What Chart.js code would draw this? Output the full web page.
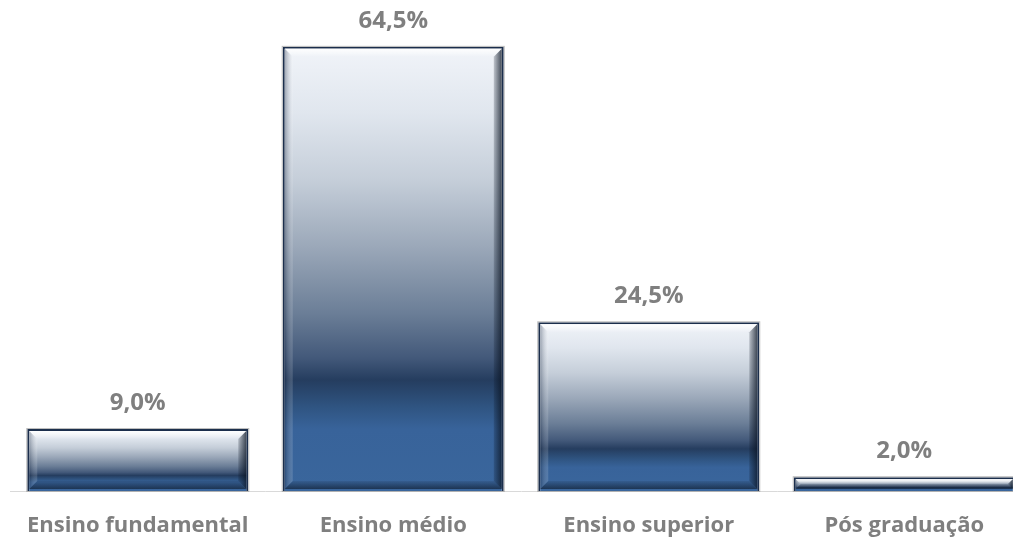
<!DOCTYPE html>
<html lang="pt-BR">
<head>
<meta charset="utf-8">
<title>Escolaridade</title>
<script src="https://cdn.jsdelivr.net/npm/chart.js@4.4.1/dist/chart.umd.min.js"></script>
<style>
    html, body { margin: 0; padding: 0; background: #ffffff; overflow: hidden; }
    #grafico { display: block; }
</style>
</head>
<body>
<canvas id="grafico" width="1040" height="540"></canvas>
<script>
// Dados do gráfico
const categorias = ['Ensino fundamental', 'Ensino médio', 'Ensino superior', 'Pós graduação'];
const percentuais = [9.0, 64.5, 24.5, 2.0];

// Cores do degradê das barras (do topo para a base)
const paradasDegrade = [
    [0.00, '#f1f4f9'],
    [0.15, '#e0e6ee'],
    [0.30, '#c5ced9'],
    [0.45, '#9ba8b9'],
    [0.60, '#6b7e97'],
    [0.70, '#43597a'],
    [0.75, '#253d5f'],
    [0.81, '#2f5481'],
    [0.86, '#38639a'],
    [1.00, '#3a669c']
];

const corTexto = '#7f7f7f';
const fonteTexto = "'Open Sans', 'DejaVu Sans', sans-serif";

// Formata 64.5 -> "64,5%"
function formatarPercentual(valor) {
    return valor.toFixed(1).replace('.', ',') + '%';
}

// Degradê vertical calculado para cada barra
function degradeBarra(context) {
    const chart = context.chart;
    if (!chart.chartArea) return '#38639a';
    const escalaY = chart.scales.y;
    const topo = escalaY.getPixelForValue(context.raw);
    const base = escalaY.getPixelForValue(0);
    const grad = chart.ctx.createLinearGradient(0, topo, 0, base);
    paradasDegrade.forEach(p => grad.addColorStop(p[0], p[1]));
    return grad;
}

// Efeito de chanfro nas bordas das barras
const pluginChanfro = {
    id: 'chanfro',
    afterDatasetsDraw(chart) {
        const ctx = chart.ctx;
        const meta = chart.getDatasetMeta(0);
        meta.data.forEach(barra => {
            const p = barra.getProps(['x', 'y', 'base', 'width'], true);
            const esq = p.x - p.width / 2 + 2;
            const dir = p.x + p.width / 2 - 2;
            const topo = p.y + 2;
            const base = p.base - 2;
            const b = Math.min(8, (base - topo) / 2);

            ctx.save();
            // topo claro
            let g = ctx.createLinearGradient(0, topo, 0, topo + b);
            g.addColorStop(0, 'rgba(255,255,255,0.9)');
            g.addColorStop(1, 'rgba(255,255,255,0)');
            ctx.fillStyle = g;
            ctx.beginPath();
            ctx.moveTo(esq, topo); ctx.lineTo(dir, topo);
            ctx.lineTo(dir - b, topo + b); ctx.lineTo(esq + b, topo + b);
            ctx.closePath(); ctx.fill();

            // lado esquerdo
            g = ctx.createLinearGradient(esq, 0, esq + b, 0);
            g.addColorStop(0, 'rgba(20,35,60,0.35)');
            g.addColorStop(1, 'rgba(255,255,255,0.15)');
            ctx.fillStyle = g;
            ctx.beginPath();
            ctx.moveTo(esq, topo); ctx.lineTo(esq + b, topo + b);
            ctx.lineTo(esq + b, base - b); ctx.lineTo(esq, base);
            ctx.closePath(); ctx.fill();

            // lado direito escuro
            g = ctx.createLinearGradient(dir - b, 0, dir, 0);
            g.addColorStop(0, 'rgba(10,20,35,0.2)');
            g.addColorStop(1, 'rgba(10,20,35,0.75)');
            ctx.fillStyle = g;
            ctx.beginPath();
            ctx.moveTo(dir, topo); ctx.lineTo(dir, base);
            ctx.lineTo(dir - b, base - b); ctx.lineTo(dir - b, topo + b);
            ctx.closePath(); ctx.fill();

            // base escura
            g = ctx.createLinearGradient(0, base - b, 0, base);
            g.addColorStop(0, 'rgba(10,20,35,0.1)');
            g.addColorStop(1, 'rgba(10,20,35,0.6)');
            ctx.fillStyle = g;
            ctx.beginPath();
            ctx.moveTo(esq, base); ctx.lineTo(dir, base);
            ctx.lineTo(dir - b, base - b); ctx.lineTo(esq + b, base - b);
            ctx.closePath(); ctx.fill();

            // contorno cinza externo
            ctx.strokeStyle = 'rgba(160,160,160,0.7)';
            ctx.lineWidth = 1;
            ctx.strokeRect(p.x - p.width / 2 - 0.5, p.y - 0.5, p.width + 1, p.base - p.y + 1);
            ctx.restore();
        });
    }
};

// Rótulos de valor acima das barras
const pluginRotulos = {
    id: 'rotulos',
    afterDatasetsDraw(chart) {
        const ctx = chart.ctx;
        const meta = chart.getDatasetMeta(0);
        ctx.save();
        ctx.font = "bold 24px " + fonteTexto;
        ctx.fillStyle = corTexto;
        ctx.textAlign = 'center';
        ctx.textBaseline = 'alphabetic';
        meta.data.forEach((barra, i) => {
            ctx.fillText(formatarPercentual(percentuais[i]), barra.x, barra.y - 19);
        });
        ctx.restore();
    }
};

const ctx = document.getElementById('grafico').getContext('2d');
new Chart(ctx, {
    type: 'bar',
    data: {
        labels: categorias,
        datasets: [{
            data: percentuais,
            backgroundColor: degradeBarra,
            borderColor: '#1b2e4c',
            borderWidth: 2,
            categoryPercentage: 1.0,
            barPercentage: 0.865
        }]
    },
    options: {
        responsive: false,
        animation: false,
        layout: { padding: { left: 10, right: 8, top: 9, bottom: 0 } },
        plugins: {
            legend: { display: false },
            tooltip: { enabled: false }
        },
        scales: {
            y: {
                display: false,
                min: 0,
                max: 70
            },
            x: {
                grid: { display: false },
                border: { display: true, color: '#d9d9d9', width: 1 },
                ticks: {
                    color: corTexto,
                    font: { family: fonteTexto, size: 22, weight: 'bold' },
                    padding: 14,
                    maxRotation: 0
                },
                afterFit(scale) { scale.height = 49; }
            }
        }
    },
    plugins: [pluginChanfro, pluginRotulos]
});
</script>
</body>
</html>
